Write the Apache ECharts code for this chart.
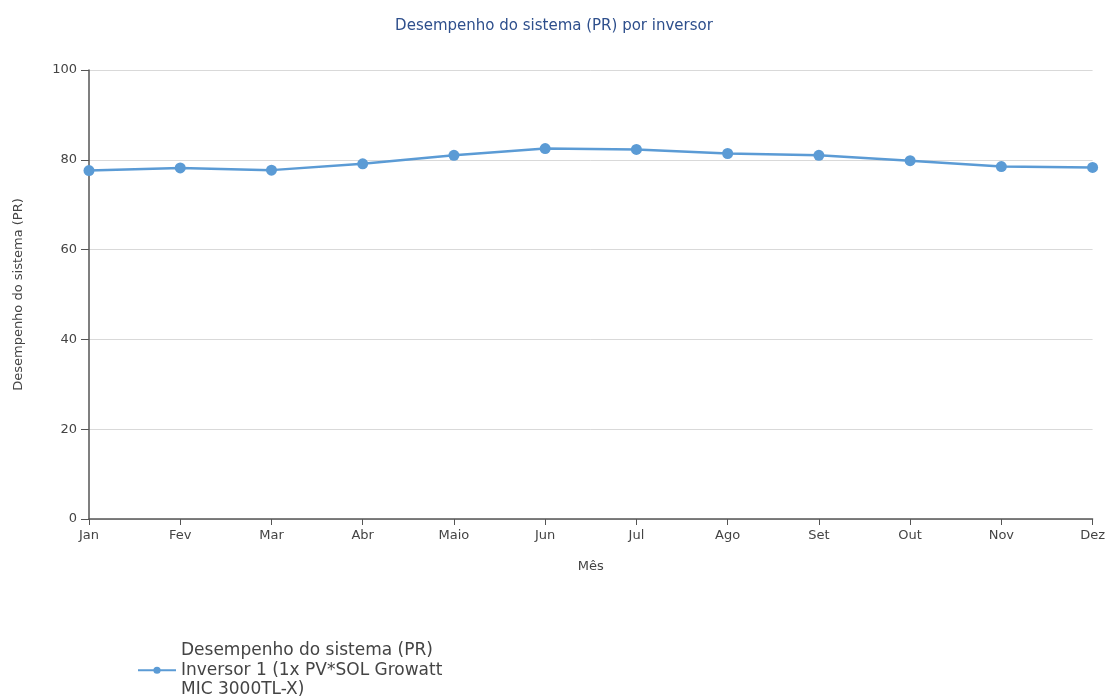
<!DOCTYPE html>
<html><head><meta charset="utf-8">
<script src="https://cdn.jsdelivr.net/npm/echarts@6/dist/echarts.min.js"></script>
<style>html,body{margin:0;padding:0;background:#fff}#c{width:1108px;height:699px}</style>
</head><body><div id="c"></div>
<script>
const months = ['Jan','Fev','Mar','Abr','Maio','Jun','Jul','Ago','Set','Out','Nov','Dez'];
const prValues = [77.6, 78.2, 77.7, 79.1, 81.0, 82.5, 82.3, 81.4, 81.0, 79.8, 78.5, 78.3];
const seriesName = 'Desempenho do sistema (PR)\nInversor 1 (1x PV*SOL Growatt\nMIC 3000TL-X)';
const titleText = 'Desempenho do sistema (PR) por inversor';
const yName = 'Desempenho do sistema (PR)';
const xName = 'Mês';

const font = 'DejaVu Sans';
const chart = echarts.init(document.getElementById('c'));
chart.setOption({
  animation: false,
  textStyle: {fontFamily: font},
  title: {text: titleText, left: 'center', top: 14,
    textStyle: {fontFamily: font, fontSize: 15, fontWeight: 'normal', color: '#2e4f8c'}},
  grid: {left: 89, right: 15, top: 70, bottom: 180},
  legend: {left: 132, top: 636, itemWidth: 38, itemHeight: 9, itemGap: 10,
    textStyle: {fontFamily: font, fontSize: 17, color: '#444', lineHeight: 19.5}},
  xAxis: {type: 'category', data: months, boundaryGap: false,
    name: xName, nameLocation: 'middle', nameGap: 41,
    nameTextStyle: {fontFamily: font, fontSize: 13, color: '#444'},
    axisLine: {lineStyle: {color: '#555', width: 1.5}},
    axisTick: {show: true, length: 6, lineStyle: {color: '#555'}},
    axisLabel: {fontFamily: font, fontSize: 13, color: '#444', margin: 10}},
  yAxis: {type: 'value', min: 0, max: 100, interval: 20,
    name: yName, nameLocation: 'middle', nameGap: 64,
    nameTextStyle: {fontFamily: font, fontSize: 13, color: '#444'},
    axisLine: {show: true, lineStyle: {color: '#555', width: 1.5}},
    axisTick: {show: true, length: 8, lineStyle: {color: '#555'}},
    axisLabel: {fontFamily: font, fontSize: 13, color: '#444', margin: 12},
    splitLine: {lineStyle: {color: '#d9d9d9'}}},
  series: [{name: seriesName, type: 'line', data: prValues,
    symbol: 'circle', symbolSize: 11,
    lineStyle: {color: '#5b9bd5', width: 2.5},
    itemStyle: {color: '#5b9bd5'}}]
});
</script></body></html>
